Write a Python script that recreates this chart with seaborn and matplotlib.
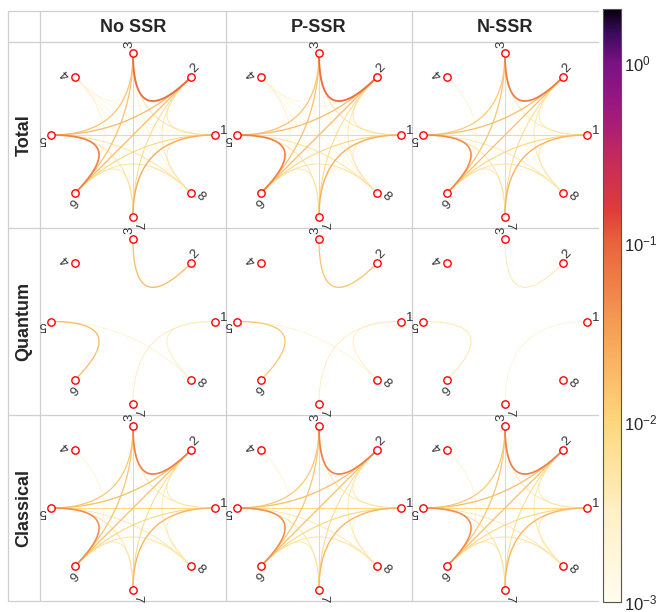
import numpy as np
import seaborn as sns
import matplotlib
matplotlib.use("Agg")
import matplotlib.pyplot as plt
from matplotlib.colors import LinearSegmentedColormap, LogNorm
from matplotlib.collections import LineCollection
from matplotlib.cm import ScalarMappable

sns.set_theme(style="white")
plt.rcParams['font.family'] = ['Liberation Sans', 'DejaVu Sans']

# ---- data ----
col_titles = ["No SSR", "P-SSR", "N-SSR"]
row_titles = ["Total", "Quantum", "Classical"]
nodes = [1, 2, 3, 4, 5, 6, 7, 8]

edge_a = [1, 1, 1, 1, 1, 1, 1, 2, 2, 2, 2, 2, 2, 3, 3, 3, 3, 3, 4, 4, 4, 4, 5, 5, 5, 6, 6, 7]
edge_b = [2, 3, 4, 5, 6, 7, 8, 3, 4, 5, 6, 7, 8, 4, 5, 6, 7, 8, 5, 6, 7, 8, 6, 7, 8, 7, 8, 8]

#                 1-2    1-3    1-4    1-5    1-6    1-7    1-8    2-3    2-4    2-5    2-6    2-7    2-8    3-4    3-5    3-6    3-7    3-8    4-5    4-6    4-7    4-8    5-6    5-7    5-8    6-7    6-8    7-8
total_no_ssr  = [0.006, 0.006, 0.002, 0.009, 0.010, 0.025, 0.005, 0.085, 0.002, 0.018, 0.018, 0.008, 0.005, 0.002, 0.015, 0.016, 0.009, 0.003, 0.002, 0.003, 0.002, 0.002, 0.060, 0.006, 0.006, 0.005, 0.006, 0.003]
total_p_ssr   = [0.006, 0.006, 0.002, 0.009, 0.010, 0.024, 0.005, 0.085, 0.002, 0.018, 0.018, 0.008, 0.005, 0.002, 0.015, 0.016, 0.009, 0.003, 0.002, 0.003, 0.002, 0.002, 0.058, 0.006, 0.006, 0.005, 0.006, 0.003]
total_n_ssr   = [0.005, 0.005, 0.000, 0.009, 0.010, 0.022, 0.005, 0.065, 0.000, 0.017, 0.017, 0.008, 0.005, 0.000, 0.014, 0.015, 0.009, 0.002, 0.000, 0.003, 0.000, 0.000, 0.048, 0.006, 0.005, 0.005, 0.006, 0.003]
quant_no_ssr  = [0, 0, 0, 0, 0, 0.004, 0.004, 0.018, 0, 0, 0, 0, 0, 0, 0, 0, 0, 0, 0, 0, 0, 0, 0.018, 0, 0.003, 0, 0, 0]
quant_p_ssr   = [0, 0, 0, 0, 0, 0.004, 0.004, 0.016, 0, 0, 0, 0, 0, 0, 0, 0, 0, 0, 0, 0, 0, 0, 0.015, 0, 0.003, 0, 0, 0]
quant_n_ssr   = [0, 0, 0, 0, 0, 0.003, 0, 0.005, 0, 0, 0, 0, 0, 0, 0, 0, 0, 0, 0, 0, 0, 0, 0.005, 0, 0, 0, 0, 0]
class_no_ssr  = [0.005, 0.005, 0.000, 0.009, 0.010, 0.021, 0.004, 0.060, 0.000, 0.017, 0.017, 0.008, 0.005, 0.000, 0.014, 0.015, 0.009, 0.002, 0.000, 0.003, 0.000, 0.000, 0.045, 0.006, 0.005, 0.005, 0.006, 0.003]
class_p_ssr   = [0.005, 0.005, 0.000, 0.009, 0.010, 0.021, 0.004, 0.060, 0.000, 0.017, 0.017, 0.008, 0.005, 0.000, 0.014, 0.015, 0.009, 0.002, 0.000, 0.003, 0.000, 0.000, 0.045, 0.006, 0.005, 0.005, 0.006, 0.003]
class_n_ssr   = [0.005, 0.005, 0.000, 0.009, 0.010, 0.021, 0.005, 0.060, 0.000, 0.017, 0.017, 0.008, 0.005, 0.000, 0.014, 0.015, 0.009, 0.002, 0.000, 0.003, 0.000, 0.000, 0.045, 0.006, 0.005, 0.005, 0.006, 0.003]

panels = [[total_no_ssr, total_p_ssr, total_n_ssr],
          [quant_no_ssr, quant_p_ssr, quant_n_ssr],
          [class_no_ssr, class_p_ssr, class_n_ssr]]

vmin, vmax = 1e-3, 2.0

# sunset-like colours (white -> yellow -> orange -> red -> purple -> black)
cmap = LinearSegmentedColormap.from_list("sunset", [
    (0.00, "#fffcee"), (0.15, "#fff0c6"), (0.303, "#fdd77c"), (0.447, "#f7a557"),
    (0.606, "#e9633c"), (0.66, "#df3c3a"), (0.75, "#c42a5c"), (0.82, "#a31a7c"),
    (0.909, "#7a1283"), (0.962, "#3a0b5c"), (1.00, "#080010")])
norm = LogNorm(vmin, vmax)

W, H = 660, 612
fig = plt.figure(figsize=(6.6, 6.12), dpi=100)


def fax(x0, y0, x1, y1):
    return fig.add_axes([x0 / W, 1 - y1 / H, (x1 - x0) / W, (y1 - y0) / H])


# table frame
bg = fax(0, 0, W, H)
bg.set_xlim(0, W)
bg.set_ylim(H, 0)
bg.axis("off")
gc = "#cfcfcf"
for y in [11, 42, 228, 415, 601]:
    bg.plot([8, 598], [y, y], color=gc, lw=0.9)
for x in [8, 40, 226, 412]:
    bg.plot([x, x], [11, 601], color=gc, lw=0.9)

xs = [40, 226, 412, 598]
ys = [42, 228, 415, 601]
for c, t in enumerate(col_titles):
    bg.text((xs[c] + xs[c + 1]) / 2, 27, t, ha="center", va="center",
            fontsize=13, fontweight="bold")
for r, t in enumerate(row_titles):
    bg.text(24, (ys[r] + ys[r + 1]) / 2, t, ha="center", va="center",
            rotation=90, fontsize=13, fontweight="bold")

ang = np.deg2rad(45 * (np.array(nodes) - 1))
nx, ny = np.cos(ang), np.sin(ang)
tt = np.linspace(0, 1, 80)[:, None]
L = 93 / 82

for r in range(3):
    for c in range(3):
        ax = fax(xs[c], ys[r], xs[c + 1], ys[r + 1])
        ax.set_xlim(-L, L)
        ax.set_ylim(-L, L)
        ax.axis("off")
        vals = np.array(panels[r][c], dtype=float)
        order = np.argsort(vals)
        segs, cols, lws = [], [], []
        for i in order:
            v = vals[i]
            if v < vmin:
                continue
            a, b = edge_a[i] - 1, edge_b[i] - 1
            p0 = np.array([nx[a], ny[a]])
            p2 = np.array([nx[b], ny[b]])
            # quadratic bezier bent through the centre
            pts = (1 - tt) ** 2 * p0 + tt ** 2 * p2
            segs.append(pts)
            cols.append(cmap(norm(v)))
            lws.append(0.25 + 0.55 * (np.log10(v) + 3))
        ax.add_collection(LineCollection(segs, colors=cols, linewidths=lws,
                                         capstyle="round", zorder=2))
        sns.scatterplot(x=nx, y=ny, ax=ax, s=28, color="white",
                        edgecolor="red", linewidth=1.0, zorder=5, clip_on=False)
        for k, a0 in zip(nodes, ang):
            dx, dy = 3.6, 0.6
            ox = dx * np.cos(a0) - dy * np.sin(a0)
            oy = dx * np.sin(a0) + dy * np.cos(a0)
            ax.annotate(str(k), xy=(np.cos(a0), np.sin(a0)), xytext=(ox, oy),
                        textcoords="offset points", rotation=np.rad2deg(a0),
                        rotation_mode="anchor", ha="left", va="baseline",
                        fontsize=9.5, color="#333333", annotation_clip=False,
                        zorder=6)

# colorbar
cax = fax(603, 9, 621, 602)
sm = ScalarMappable(norm=norm, cmap=cmap)
cb = fig.colorbar(sm, cax=cax)
cb.outline.set_linewidth(0.8)
cb.outline.set_edgecolor("#555555")
cax.tick_params(which="major", direction="in", length=5, width=0.8,
                labelsize=12, pad=2, color="#333333")
cax.tick_params(which="minor", direction="in", length=3, width=0.6, color="#333333")

fig.savefig("out.png", dpi=100)
